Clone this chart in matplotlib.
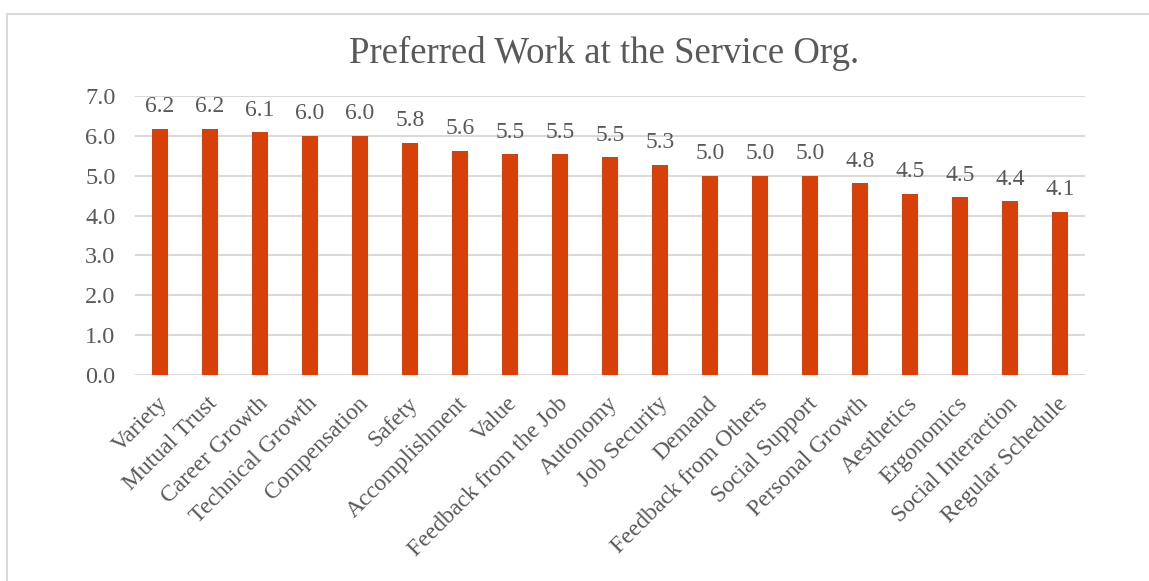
import matplotlib
matplotlib.use("Agg")
import matplotlib.pyplot as plt
import matplotlib.transforms as mtransforms
from matplotlib.patches import Rectangle

# Mean preference scores per work characteristic
categories = [
    "Variety", "Mutual Trust", "Career Growth", "Technical Growth",
    "Compensation", "Safety", "Accomplishment", "Value",
    "Feedback from the Job", "Autonomy", "Job Security", "Demand",
    "Feedback from Others", "Social Support", "Personal Growth",
    "Aesthetics", "Ergonomics", "Social Interaction", "Regular Schedule",
]
scores = [6.17, 6.17, 6.09, 6.00, 6.00, 5.82, 5.62, 5.54, 5.54, 5.46,
          5.27, 5.00, 5.00, 5.00, 4.81, 4.54, 4.46, 4.36, 4.09]
y_ticks = [0, 1, 2, 3, 4, 5, 6, 7]
title = "Preferred Work at the Service Org."

BAR = "#D74008"
TEXT = "#595959"
GRID = "#D9D9D9"

plt.rcParams["font.family"] = ["Liberation Serif", "DejaVu Serif"]

fig = plt.figure(figsize=(11.49, 5.81), dpi=100)
W, H = 1149, 581

# chart frame
fig.patches.append(Rectangle((7 / W, -0.1), 1.2, (H - 14) / H + 0.1,
                             transform=fig.transFigure, fill=False,
                             edgecolor=GRID, linewidth=1.5))

ax = fig.add_axes([135 / W, 1 - 375 / H, (1085 - 135) / W, (375 - 96) / H])
x = list(range(len(categories)))
ax.bar(x, scores, width=0.33, color=BAR, zorder=3)

for xi, v in zip(x, scores):
    ax.annotate(f"{v:.1f}", (xi, v), xytext=(0, 12), textcoords="offset points",
                ha="center", va="baseline", fontsize=17, color=TEXT)

ax.set_xlim(-0.5, len(categories) - 0.5)
ax.set_ylim(0, 7)
ax.set_yticks(y_ticks)
ax.set_yticklabels([f"{t:.1f}" for t in y_ticks], fontsize=17.5, color=TEXT)
ax.set_xticks(x)
ax.set_xticklabels(categories, rotation=45, ha="right", va="top",
                   rotation_mode="anchor", fontsize=17, color=TEXT)
ax.tick_params(axis="y", length=0, pad=14)
ax.tick_params(axis="x", length=0, pad=13)

# nudge the slanted category labels slightly to the left
shift = mtransforms.ScaledTranslation(-3 / 100, 0, fig.dpi_scale_trans)
for lbl in ax.get_xticklabels():
    lbl.set_transform(lbl.get_transform() + shift)

ax.grid(axis="y", color=GRID, linewidth=1.5, zorder=0)
for s in ax.spines.values():
    s.set_visible(False)

fig.text(604 / W, 1 - 53 / H, title, ha="center", va="center",
         fontsize=26.5, color=TEXT)

fig.savefig("out.png", dpi=100)
